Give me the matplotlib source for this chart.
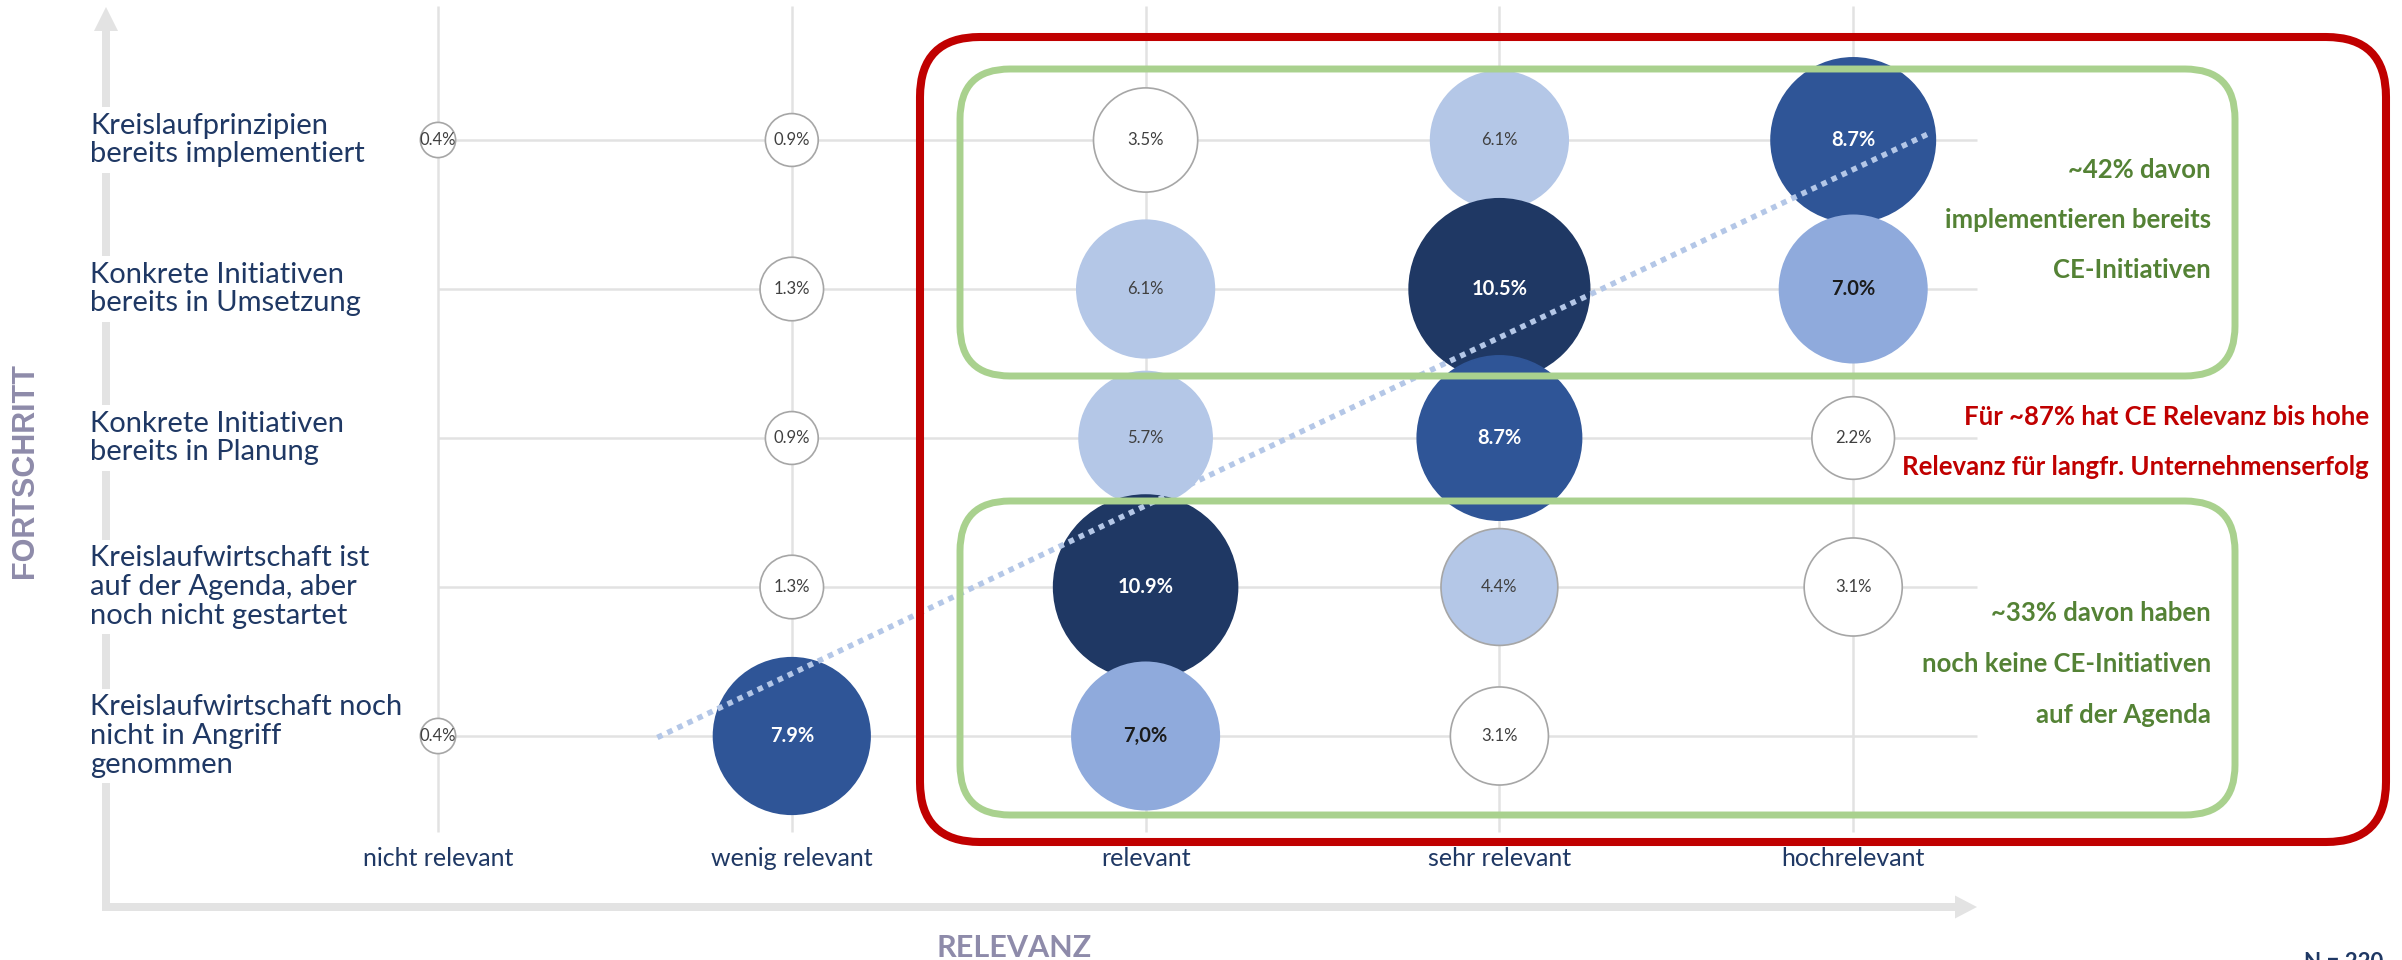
import matplotlib
matplotlib.use("Agg")
import matplotlib.pyplot as plt
import matplotlib.transforms as mtransforms
from matplotlib.patches import FancyBboxPatch, FancyArrow

plt.rcParams['font.family'] = ['Lato', 'DejaVu Sans']

# ---- data ----
relevanz = ["nicht relevant", "wenig relevant", "relevant", "sehr relevant", "hochrelevant"]
fortschritt = [
    "Kreislaufprinzipien\nbereits implementiert",
    "Konkrete Initiativen\nbereits in Umsetzung",
    "Konkrete Initiativen\nbereits in Planung",
    "Kreislaufwirtschaft ist\nauf der Agenda, aber\nnoch nicht gestartet",
    "Kreislaufwirtschaft noch\nnicht in Angriff\ngenommen",
]
# one entry per bubble: relevanz index, fortschritt index (0 = top row), share in %
bub_rel = [0, 1, 2, 3, 4, 1, 2, 3, 4, 1, 2, 3, 4, 1, 2, 3, 4, 0, 1, 2, 3]
bub_fort = [0, 0, 0, 0, 0, 1, 1, 1, 1, 2, 2, 2, 2, 3, 3, 3, 3, 4, 4, 4, 4]
bub_val = [0.4, 0.9, 3.5, 6.1, 8.7,
           1.3, 6.1, 10.5, 7.0,
           0.9, 5.7, 8.7, 2.2,
           1.3, 10.9, 4.4, 3.1,
           0.4, 7.9, 7.0, 3.1]
bub_lbl = ["0.4%", "0.9%", "3.5%", "6.1%", "8.7%",
           "1.3%", "6.1%", "10.5%", "7.0%",
           "0.9%", "5.7%", "8.7%", "2.2%",
           "1.3%", "10.9%", "4.4%", "3.1%",
           "0.4%", "7.9%", "7,0%", "3.1%"]

# dotted trend line (relevanz 1..5, fortschritt 1..5 from bottom)
trend_rel = [1.62, 5.22]
trend_fort = [0.99, 5.05]

green_top = ["~42% davon", "implementieren bereits", "CE-Initiativen"]
green_bottom = ["~33% davon haben", "noch keine CE-Initiativen", "auf der Agenda"]
red_note = ["Für ~87% hat CE Relevanz bis hohe", "Relevanz für langfr. Unternehmenserfolg"]
n_note = "N = 220"

NAVY = '#1F3864'
GRID = '#E2E2E2'
AXIS_TITLE = '#8E8BAA'
GREEN_LINE = '#A9D18E'
GREEN_TXT = '#548235'
RED = '#C00000'


def bubble_style(v):
    if v < 4:
        return 'white', '#A6A6A6', '#404040', 'normal', 12
    if v < 6.5:
        return '#B4C7E7', ('#A6A6A6' if v < 5 else '#B4C7E7'), '#404040', 'normal', 12
    if v < 7.5:
        return '#8FAADC', '#8FAADC', '#1A1A1A', 'bold', 14.5
    if v < 10:
        return '#2F5597', '#2F5597', 'white', 'bold', 14.5
    return '#1F3864', '#1F3864', 'white', 'bold', 14.5


W, H = 2402, 960
fig = plt.figure(figsize=(W / 100, H / 100), dpi=100)
ax = fig.add_axes([0, 0, 1, 1])

col0_px, col_step = 438, 353.8
row_px, row_step = 736, 149
ax.set_xlim(1 - col0_px / col_step, 1 + (W - col0_px) / col_step)
ax.set_ylim(1 - (H - row_px) / row_step, 1 + row_px / row_step)
ax.axis('off')

# pixel coordinates from top-left corner
pix = mtransforms.Affine2D().scale(1, -1).translate(0, H)
x_data_y_pix = mtransforms.blended_transform_factory(ax.transData, pix)
x_pix_y_data = mtransforms.blended_transform_factory(pix, ax.transData)

nrow = len(fortschritt)
xs = [i + 1 for i in range(len(relevanz))]
ys = [nrow - i for i in range(nrow)]

# grid
ax.vlines(xs, 6, 832, transform=x_data_y_pix, color=GRID, lw=1.8, zorder=1)
ax.hlines(ys, 438, 1977, transform=x_pix_y_data, color=GRID, lw=1.8, zorder=1)

# axis arrows
ax.add_patch(FancyArrow(106, 911, 0, -904, width=8, head_width=24, head_length=24,
                        length_includes_head=True, color='#E3E3E3', lw=0,
                        transform=pix, zorder=1))
ax.add_patch(FancyArrow(102, 907, 1875, 0, width=8, head_width=23, head_length=22,
                        length_includes_head=True, color='#E3E3E3', lw=0,
                        transform=pix, zorder=1))

# bubbles
bx = [r + 1 for r in bub_rel]
by = [nrow - f for f in bub_fort]
styles = [bubble_style(v) for v in bub_val]
ax.scatter(bx, by, s=[1608 * v for v in bub_val],
           c=[s[0] for s in styles], edgecolors=[s[1] for s in styles],
           linewidths=1.2, zorder=3)
for x, y, lbl, st in zip(bx, by, bub_lbl, styles):
    ax.text(x, y, lbl, ha='center', va='center', color=st[2], fontweight=st[3],
            fontsize=st[4], zorder=7)

# trend line
ax.plot(trend_rel, trend_fort, color='#B4C7E7', lw=4, linestyle=(0, (1, 1)),
        dash_capstyle='butt', zorder=4)

# category labels
for y, lbl in zip(ys, fortschritt):
    ax.text(90, y, lbl, transform=x_pix_y_data, ha='left', va='center',
            fontsize=21, color=NAVY, linespacing=1.12, zorder=2,
            bbox=dict(facecolor='white', edgecolor='none', pad=4))
for x, lbl in zip(xs, relevanz):
    ax.text(x, 858, lbl, transform=x_data_y_pix, ha='center', va='center',
            fontsize=18, color=NAVY, zorder=2)

ax.text(25, 471, "FORTSCHRITT", transform=pix, rotation=90, ha='center', va='center',
        fontsize=22, fontweight='bold', color=AXIS_TITLE, family='Liberation Sans')
ax.text(1014, 957, "RELEVANZ", transform=pix, ha='center', va='baseline',
        fontsize=22, fontweight='bold', color=AXIS_TITLE)
ax.text(2304, 952, n_note, transform=pix, ha='left', va='top',
        fontsize=16, fontweight='bold', color=NAVY)

# highlight boxes
ax.add_patch(FancyBboxPatch((920, 37), 1466, 805, boxstyle="round,pad=0,rounding_size=60",
                            fill=False, edgecolor=RED, lw=5.8, transform=pix, zorder=6))
ax.add_patch(FancyBboxPatch((960, 69), 1275, 307, boxstyle="round,pad=0,rounding_size=50",
                            fill=False, edgecolor=GREEN_LINE, lw=5, transform=pix, zorder=6))
ax.add_patch(FancyBboxPatch((960, 501), 1275, 314, boxstyle="round,pad=0,rounding_size=50",
                            fill=False, edgecolor=GREEN_LINE, lw=5, transform=pix, zorder=6))

for i, line in enumerate(green_top):
    ax.text(2211, 170 + 50 * i, line, transform=pix, ha='right', va='center',
            fontsize=18.5, fontweight='bold', color=GREEN_TXT, zorder=7)
for i, line in enumerate(green_bottom):
    ax.text(2211, 613 + 51 * i, line, transform=pix, ha='right', va='center',
            fontsize=18.5, fontweight='bold', color=GREEN_TXT, zorder=7)
for i, line in enumerate(red_note):
    ax.text(2369, 417 + 50 * i, line, transform=pix, ha='right', va='center',
            fontsize=18.5, fontweight='bold', color=RED, zorder=7)

fig.savefig("out.png", dpi=100)
